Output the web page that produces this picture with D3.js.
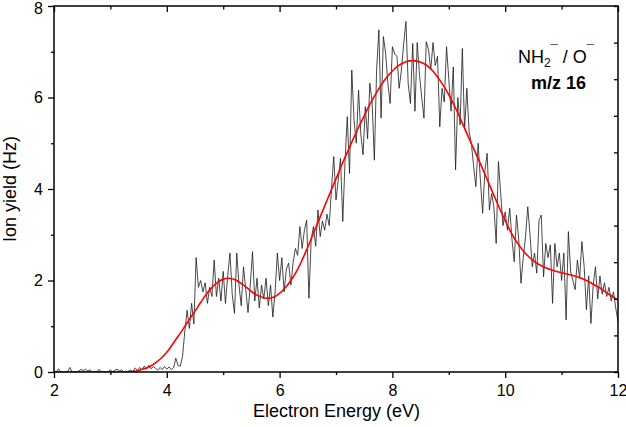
<!DOCTYPE html>
<html>
<head>
<meta charset="utf-8">
<script src="https://cdn.jsdelivr.net/npm/d3@7"></script>
<style>
  html, body { margin: 0; padding: 0; background: #fff; }
  svg { display: block; font-family: "Liberation Sans", Arial, sans-serif; }
</style>
</head>
<body>
<svg id="chart" width="626" height="427"></svg>
<script>
// ---- Data ----
const xStart = 2, xStep = 0.04;           // energy grid of measured signal (eV)
const ionYield = [
  // 2.00 - 2.96
  0,0,0.07,0,0,0,0,0.1,0,0,0,0.02,0.06,0.03,0.06,0.02,0.05,0,0,0,0.06,0,0,0,0,
  // 3.00 - 3.96
  0.05,0,0.04,0.06,0.02,0.05,0,0,0.02,0.04,0.01,0.09,0.03,0.1,0.05,0.13,0.06,0.15,0.07,0.12,0.08,0.04,0.1,0.05,0.12,
  // 4.00 - 4.96
  0.06,0.11,0.05,0.09,0.3,0.14,0.13,0.35,0.9,1.35,0.95,1.5,1.05,2.5,1.85,2.0,1.75,1.95,1.5,1.85,1.65,2.45,1.65,2.05,1.55,
  // 5.00 - 5.96
  2.2,1.5,2.1,2.6,1.7,1.28,2.6,1.9,1.45,2.3,1.8,1.3,1.9,2.63,1.55,2.05,1.4,1.9,1.6,2.05,1.45,1.9,1.2,1.75,2.6,
  // 6.00 - 6.96
  2.0,2.5,1.75,2.25,2.38,1.9,2.4,2.7,2.55,3.18,2.7,3.1,3.32,1.61,2.9,3.18,2.75,3.54,2.96,3.3,3.1,3.45,3.2,4.0,4.71,
  // 7.00 - 7.96
  3.76,4.2,4.67,3.29,4.6,5.58,4.34,6.6,5.5,5.0,6.16,5.2,4.75,5.8,5.1,6.31,5.9,4.63,6.6,7.48,5.55,7.33,6.97,6.3,5.87,
  // 8.00 - 8.96
  7.11,6.95,6.9,6.2,6.6,7.18,7.66,6.3,5.87,7.18,5.7,7.2,6.5,6.0,5.55,7.22,7.05,6.6,7.2,6.7,6.9,5.36,6.2,5.9,7.11,
  // 9.00 - 9.96
  6.4,5.7,6.67,4.42,6.0,5.4,7.07,5.3,6.2,5.25,5.0,4.5,4.05,5.0,4.2,3.47,4.4,4.78,3.54,3.9,3.6,2.81,4.6,3.9,3.2,
  // 10.00 - 10.96
  3.5,3.1,3.58,2.9,2.41,3.43,2.9,1.94,2.5,2.95,3.61,3.0,2.3,2.6,2.16,3.32,3.43,2.08,2.81,2.5,2.78,1.5,2.81,2.3,2.6,
  // 11.00 - 12.00
  2.0,2.6,1.14,3.07,2.2,2.0,1.8,2.45,2.05,2.85,2.3,1.36,2.1,1.06,1.9,2.3,1.6,2.1,1.7,1.95,1.65,1.85,1.55,1.75,1.4,1.1
];

const fitStart = 2, fitStep = 0.1;        // energy grid of fitted curve (eV)
const fitYield = [
  0,0,0,0,0,0,0,0,0,0,0,0,0,0,            // 2.0 - 3.3
  0.01,0.03,0.07,0.12,0.2,0.3,            // 3.4 - 3.9
  0.43,0.6,0.78,0.96,1.15,1.33,1.52,1.7,1.85,1.96,   // 4.0 - 4.9
  2.03,2.05,2.02,1.95,1.86,1.76,1.68,1.63,1.61,1.64, // 5.0 - 5.9
  1.72,1.84,2.0,2.2,2.45,2.73,3.03,3.33,3.63,3.93,   // 6.0 - 6.9
  4.22,4.52,4.8,5.08,5.35,5.6,5.85,6.07,6.27,6.44,   // 7.0 - 7.9
  6.58,6.69,6.76,6.8,6.8,6.77,6.71,6.6,6.45,6.27,    // 8.0 - 8.9
  6.06,5.82,5.55,5.27,4.99,4.72,4.44,4.15,3.86,3.58, // 9.0 - 9.9
  3.31,3.06,2.85,2.68,2.54,2.43,2.35,2.29,2.24,2.2,  // 10.0 - 10.9
  2.17,2.14,2.11,2.07,2.02,1.96,1.89,1.82,1.73,1.65, // 11.0 - 11.9
  1.57                                               // 12.0
];

const xMajorTicks = [2, 4, 6, 8, 10, 12];
const xMinorTicks = [3, 5, 7, 9, 11];
const yMajorTicks = [0, 2, 4, 6, 8];
const yMinorTicks = [1, 3, 5, 7];
const yRightTicks = [0, 0.8, 1.6, 2.4, 3.2, 4, 4.8, 5.6, 6.4, 7.2, 8];

const xTitle = "Electron Energy (eV)";
const yTitle = "Ion yield (Hz)";

// ---- Layout ----
const L = 54, R = 618, T = 6, B = 372;
const svg = d3.select("#chart");
const x = d3.scaleLinear().domain([2, 12]).range([L, R]);
const y = d3.scaleLinear().domain([0, 8]).range([B, T]);

svg.append("defs").append("clipPath").attr("id", "clip")
  .append("rect").attr("x", L).attr("y", T - 2).attr("width", R - L).attr("height", B - T + 2);

const signal = ionYield.map((v, i) => [xStart + i * xStep, v]);
const fit = fitYield.map((v, i) => [fitStart + i * fitStep, v]);

const plot = svg.append("g").attr("clip-path", "url(#clip)");
plot.append("path")
  .datum(signal)
  .attr("fill", "none")
  .attr("stroke", "#1a1a1a")
  .attr("stroke-width", 0.8)
  .attr("stroke-linejoin", "round")
  .attr("d", d3.line().x(d => x(d[0])).y(d => y(d[1])));

plot.append("path")
  .datum(fit)
  .attr("fill", "none")
  .attr("stroke", "#ff0000")
  .attr("stroke-width", 1.6)
  .attr("d", d3.line().curve(d3.curveCatmullRom).x(d => x(d[0])).y(d => y(d[1])));

// ---- Axes ----
function style(g) {
  g.select(".domain").remove();
  g.selectAll(".tick line").attr("stroke", "#000").attr("stroke-width", 1.3);
  g.selectAll(".tick text").attr("fill", "#000").attr("font-size", 16)
    .attr("font-family", "'Liberation Sans', Arial, sans-serif");
}

// bottom
svg.append("g").attr("transform", `translate(0,${B})`)
  .call(d3.axisBottom(x).tickValues(xMajorTicks).tickSize(6).tickPadding(7).tickFormat(d3.format("d")))
  .call(style);
svg.append("g").attr("transform", `translate(0,${B})`)
  .call(d3.axisBottom(x).tickValues(xMinorTicks).tickSize(3).tickFormat(""))
  .call(style);
// top (inward)
svg.append("g").attr("transform", `translate(0,${T})`)
  .call(d3.axisBottom(x).tickValues(xMajorTicks).tickSize(6).tickFormat(""))
  .call(style);
svg.append("g").attr("transform", `translate(0,${T})`)
  .call(d3.axisBottom(x).tickValues(xMinorTicks).tickSize(3.5).tickFormat(""))
  .call(style);
// left
const leftAxis = svg.append("g").attr("transform", `translate(${L},0)`)
  .call(d3.axisLeft(y).tickValues(yMajorTicks).tickSize(6).tickPadding(5).tickFormat(d3.format("d")))
  .call(style);
leftAxis.selectAll(".tick text").filter(d => d === 8).attr("dy", "0.45em");
svg.append("g").attr("transform", `translate(${L},0)`)
  .call(d3.axisLeft(y).tickValues(yMinorTicks).tickSize(3).tickFormat(""))
  .call(style);
// right (inward)
svg.append("g").attr("transform", `translate(${R},0)`)
  .call(d3.axisLeft(y).tickValues(yRightTicks).tickSize(4).tickFormat(""))
  .call(style);

// frame
svg.append("rect").attr("x", L).attr("y", T).attr("width", R - L).attr("height", B - T)
  .attr("fill", "none").attr("stroke", "#000").attr("stroke-width", 1.5);

// titles
svg.append("text").attr("x", (L + R) / 2 + 0.5).attr("y", 417)
  .attr("text-anchor", "middle").attr("font-size", 18).attr("fill", "#000").text(xTitle);
svg.append("text").attr("transform", `translate(16,${(T + B) / 2}) rotate(-90)`)
  .attr("text-anchor", "middle").attr("font-size", 18).attr("fill", "#000").text(yTitle);

// annotation
const ann = svg.append("text").attr("x", 594).attr("y", 63).attr("text-anchor", "end")
  .attr("font-size", 18).attr("fill", "#000");
ann.append("tspan").text("NH");
ann.append("tspan").attr("font-size", 12).attr("dy", 4).text("2");
ann.append("tspan").attr("font-size", 13).attr("dy", -13).text("\u00AF");
ann.append("tspan").attr("dy", 9).text(" / O");
ann.append("tspan").attr("font-size", 13).attr("dy", -9).text("\u00AF");

svg.append("text").attr("x", 586).attr("y", 89).attr("text-anchor", "end")
  .attr("font-size", 18).attr("font-weight", "bold").attr("fill", "#000").text("m/z 16");
</script>
</body>
</html>
